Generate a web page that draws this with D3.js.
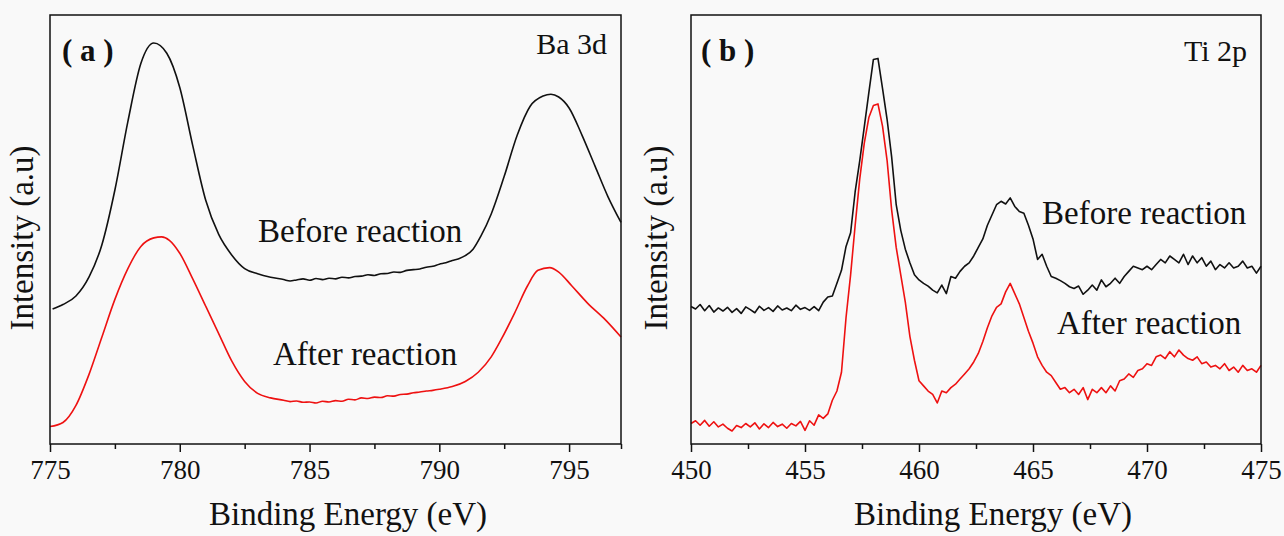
<!DOCTYPE html>
<html>
<head>
<meta charset="utf-8">
<script src="https://cdn.jsdelivr.net/npm/d3@7"></script>
<style>
  html, body { margin: 0; padding: 0; background: #f9f9f9; }
  svg { display: block; }
  text { font-family: "Liberation Serif", "Times New Roman", serif; fill: #111; }
</style>
</head>
<body>
<svg id="chart" width="1284" height="536"></svg>
<script>
// ---------- Data ----------
// Panel (a) Ba 3d
const aTicks = [775, 780, 785, 790, 795];
const aMinorTicks = [777.5, 782.5, 787.5, 792.5, 797];
const aBeforeE = [775.1, 775.5, 776, 776.5, 777, 777.5, 778, 778.5, 779, 779.5, 780, 780.5, 781, 781.5, 782, 782.5, 783, 783.5, 784, 784.25, 784.5, 784.75, 785, 785.25, 785.5, 785.75, 786, 786.25, 786.5, 786.75, 787, 787.25, 787.5, 787.75, 788, 788.25, 788.5, 788.75, 789, 789.25, 789.5, 789.75, 790, 790.25, 790.5, 790.75, 791, 791.3, 791.6, 792, 792.5, 793, 793.5, 794, 794.3, 794.6, 795, 795.5, 796, 796.5, 797];
const aBeforeI = [39.5, 40.8, 43.3, 48.8, 58.3, 74.3, 94.3, 111.3, 117.3, 114.3, 104.3, 87.3, 71.3, 61.3, 55.3, 51.3, 49.8, 48.8, 48.1, 47.7, 48.0, 48.3, 47.9, 48.4, 48.1, 48.5, 48.3, 48.8, 48.6, 49.0, 49.1, 49.5, 49.3, 49.8, 49.9, 50.3, 50.2, 50.8, 51.0, 51.2, 51.7, 52.0, 52.6, 53.0, 53.7, 54.2, 55.1, 57.0, 60.8, 67.3, 78.3, 90.3, 98.8, 101.8, 102.3, 101.5, 98.3, 90.3, 81.3, 72.3, 64.8];
const aAfterE = [775, 775.5, 776, 776.5, 777, 777.5, 778, 778.5, 779, 779.3, 779.6, 780, 780.5, 781, 781.5, 782, 782.5, 783, 783.5, 784, 784.25, 784.5, 784.75, 785, 785.25, 785.5, 785.75, 786, 786.25, 786.5, 786.75, 787, 787.25, 787.5, 787.75, 788, 788.25, 788.5, 788.75, 789, 789.25, 789.5, 789.75, 790, 790.5, 791, 791.5, 792, 792.4, 792.9, 793.4, 793.8, 794.25, 794.6, 795.1, 795.7, 796.4, 797];
const aAfterI = [5.1, 6.3, 11.3, 20.3, 31.3, 42.3, 51.3, 57.8, 60.3, 60.6, 59.6, 55.8, 48.3, 40.3, 32.3, 24.3, 18.3, 14.8, 13.5, 12.8, 12.4, 12.6, 12.2, 12.3, 12.0, 12.5, 12.3, 12.7, 12.5, 13.1, 12.9, 13.5, 13.3, 13.7, 13.6, 14.1, 14.0, 14.5, 14.6, 15.0, 15.2, 15.5, 15.7, 16.0, 16.8, 18.3, 21.0, 25.5, 30.8, 38.3, 46.3, 50.8, 51.6, 50.3, 46.3, 41.3, 36.3, 31.3];

// Panel (b) Ti 2p
const bTicks = [450, 455, 460, 465, 470, 475];
const bMinorTicks = [452.5, 457.5, 462.5, 467.5, 472.5];
const bEnergy = [
  450.0, 450.2, 450.4, 450.6, 450.8, 451.0, 451.2, 451.4, 451.6, 451.8,
  452.0, 452.2, 452.4, 452.6, 452.8, 453.0, 453.2, 453.4, 453.6, 453.8,
  454.0, 454.2, 454.4, 454.6, 454.8, 455.0, 455.2, 455.4, 455.6, 455.8,
  456.0, 456.2, 456.4, 456.6, 456.8, 457.0, 457.2, 457.4, 457.6, 457.8,
  458.0, 458.2, 458.4, 458.6, 458.8, 459.0, 459.2, 459.4, 459.6, 459.8,
  460.0, 460.2, 460.4, 460.6, 460.8, 461.0, 461.2, 461.4, 461.6, 461.8,
  462.0, 462.2, 462.4, 462.6, 462.8, 463.0, 463.2, 463.4, 463.6, 463.8,
  464.0, 464.2, 464.4, 464.6, 464.8, 465.0, 465.2, 465.4, 465.6, 465.8,
  466.0, 466.2, 466.4, 466.6, 466.8, 467.0, 467.2, 467.4, 467.6, 467.8,
  468.0, 468.2, 468.4, 468.6, 468.8, 469.0, 469.2, 469.4, 469.6, 469.8,
  470.0, 470.2, 470.4, 470.6, 470.8, 471.0, 471.2, 471.4, 471.6, 471.8,
  472.0, 472.2, 472.4, 472.6, 472.8, 473.0, 473.2, 473.4, 473.6, 473.8,
  474.0, 474.2, 474.4, 474.6, 474.8, 475.0];
const bBeforeI = [
  40.2, 39.5, 40.8, 39.0, 40.5, 38.6, 39.8, 38.9, 40.0, 38.5,
  39.6, 38.2, 40.1, 39.3, 38.4, 40.3, 39.1, 39.9, 38.8, 40.4,
  39.2, 39.8, 39.0, 40.6, 39.4, 39.9, 39.1, 40.2, 39.0, 41.5,
  43.0, 43.3, 47.0, 50.8, 57.8, 61.8, 73.8, 82.8, 92.8, 102.8,
  112.5, 112.8, 104.0, 95.0, 84.0, 70.0, 62.5, 57.0, 53.0, 49.5,
  48.0, 47.0, 46.2, 45.0, 44.2, 46.5, 44.0, 49.0, 48.5, 50.5,
  52.0, 53.0, 55.0, 57.5, 60.0, 64.0, 67.0, 70.0, 71.0, 70.2,
  72.0, 69.5, 68.0, 67.5, 64.0, 60.0, 54.0, 55.5, 52.0, 49.0,
  48.5, 47.8, 47.0, 46.0, 45.5, 46.2, 43.8, 45.0, 46.5, 45.0,
  48.0, 46.0, 47.0, 48.5, 47.0, 49.0, 50.5, 52.0, 51.5, 51.0,
  52.0, 51.0, 52.5, 54.0, 53.0, 55.0, 54.0, 53.0, 55.5, 52.5,
  55.0, 53.0, 54.5, 52.0, 53.5, 51.0, 52.5, 51.5, 53.0, 51.5,
  52.0, 53.5, 51.5, 52.0, 50.0, 52.0];
const bAfterI = [
  6.0, 6.8, 5.5, 6.9, 5.2, 6.5, 5.0, 5.8, 4.6, 3.8,
  5.4, 4.8, 6.0, 5.0, 6.2, 4.4, 5.9, 4.8, 6.3, 5.1,
  5.8, 4.6, 6.0, 5.3, 6.6, 4.0, 6.8, 5.5, 8.5, 7.5,
  8.8, 12.8, 15.5, 21.0, 37.0, 49.5, 64.0, 77.5, 88.0, 95.5,
  99.0, 99.5, 93.0, 83.0, 68.5, 57.5, 49.5, 41.5, 31.5, 24.5,
  18.5, 17.0, 15.5, 14.5, 12.0, 15.5, 15.0, 16.5, 17.5, 19.0,
  20.5, 22.0, 24.0, 26.5, 30.0, 34.0, 37.5, 40.0, 41.0, 44.5,
  47.0, 44.0, 41.0, 37.0, 33.0, 29.5, 25.5, 23.0, 21.0, 20.0,
  18.0, 16.0, 16.5, 15.0, 16.0, 14.5, 16.5, 13.0, 16.0, 15.0,
  16.5, 15.0, 17.0, 15.5, 18.5, 19.0, 20.5, 19.5, 21.5, 22.0,
  23.5, 23.0, 25.5, 26.0, 25.0, 27.0, 25.5, 27.5, 26.0, 25.0,
  24.5, 25.5, 23.5, 24.0, 22.5, 23.0, 22.0, 23.5, 21.5, 22.5,
  21.0, 23.0, 21.5, 22.0, 21.0, 23.0];

const seriesNames = ["Before reaction", "After reaction"];
const seriesColors = ["#111111", "#ee1111"];

// ---------- Drawing ----------
const SERIF = "'Liberation Serif', 'Times New Roman', serif";
const svg = d3.select("#chart");
const TOP = 15, BOTTOM = 444;

function panel(cfg) {
  const x = d3.scaleLinear().domain(cfg.domain).range([cfg.left, cfg.right]);
  const y = d3.scaleLinear().domain([0, 125.5]).range([BOTTOM, TOP]);
  const g = svg.append("g");

  // lines
  const line = d3.line().x(d => x(d[0])).y(d => y(d[1])).curve(cfg.curve);
  cfg.series.forEach((s, i) => {
    const pts = s.e.map((e, k) => [e, s.v[k]]);
    g.append("path").datum(pts)
      .attr("fill", "none")
      .attr("stroke", seriesColors[i])
      .attr("stroke-width", 1.6)
      .attr("stroke-linejoin", "round")
      .attr("d", line);
  });

  // frame
  g.append("rect")
    .attr("x", cfg.left).attr("y", TOP)
    .attr("width", cfg.right - cfg.left).attr("height", BOTTOM - TOP)
    .attr("fill", "none").attr("stroke", "#111").attr("stroke-width", 1.5);

  // x axis major
  const ax = g.append("g").attr("transform", `translate(0,${BOTTOM})`)
    .call(d3.axisBottom(x).tickValues(cfg.ticks).tickSize(8).tickPadding(8).tickFormat(d3.format("d")));
  ax.attr("font-family", SERIF).attr("font-size", 27);
  ax.select(".domain").remove();
  ax.selectAll(".tick line").attr("stroke", "#111").attr("stroke-width", 1.5);
  ax.selectAll(".tick text").style("font-size", "27px").style("font-family", SERIF).attr("fill", "#111");
  // x axis minor
  const axm = g.append("g").attr("transform", `translate(0,${BOTTOM})`)
    .call(d3.axisBottom(x).tickValues(cfg.minor).tickSize(5).tickFormat(""));
  axm.select(".domain").remove();
  axm.selectAll(".tick line").attr("stroke", "#111").attr("stroke-width", 1.5);

  // axis titles
  g.append("text").attr("x", cfg.xTitleX).attr("y", 525)
    .attr("text-anchor", "middle").style("font-size", "33px").text("Binding Energy (eV)");
  g.append("text")
    .attr("transform", `translate(${cfg.yTitleX},${238}) rotate(-90)`)
    .attr("text-anchor", "middle").style("font-size", "33px").text("Intensity (a.u)");

  // panel label
  g.append("text").attr("x", cfg.labelX).attr("y", 61)
    .style("font-size", "31px").style("font-weight", "bold").text(cfg.label);
  // element label
  g.append("text").attr("x", cfg.right - 14).attr("y", cfg.elemY)
    .attr("text-anchor", "end").style("font-size", "30px").text(cfg.elem);

  // series annotations
  cfg.notes.forEach((n, i) => {
    g.append("text").attr("x", n[0]).attr("y", n[1])
      .style("font-size", "33px").text(seriesNames[i]);
  });
}

panel({
  domain: [775, 797], left: 50, right: 621,
  ticks: aTicks, minor: aMinorTicks, curve: d3.curveMonotoneX,
  series: [{e: aBeforeE, v: aBeforeI}, {e: aAfterE, v: aAfterI}],
  xTitleX: 348, yTitleX: 33, label: "( a )", labelX: 62, elem: "Ba 3d", elemY: 54,
  notes: [[258, 242], [273, 365]]
});
panel({
  domain: [450, 475], left: 691, right: 1261,
  ticks: bTicks, minor: bMinorTicks, curve: d3.curveLinear,
  series: [{e: bEnergy, v: bBeforeI}, {e: bEnergy, v: bAfterI}],
  xTitleX: 993, yTitleX: 667, label: "( b )", labelX: 701, elem: "Ti 2p", elemY: 61,
  notes: [[1042, 224], [1057, 334]]
});
</script>
</body>
</html>
